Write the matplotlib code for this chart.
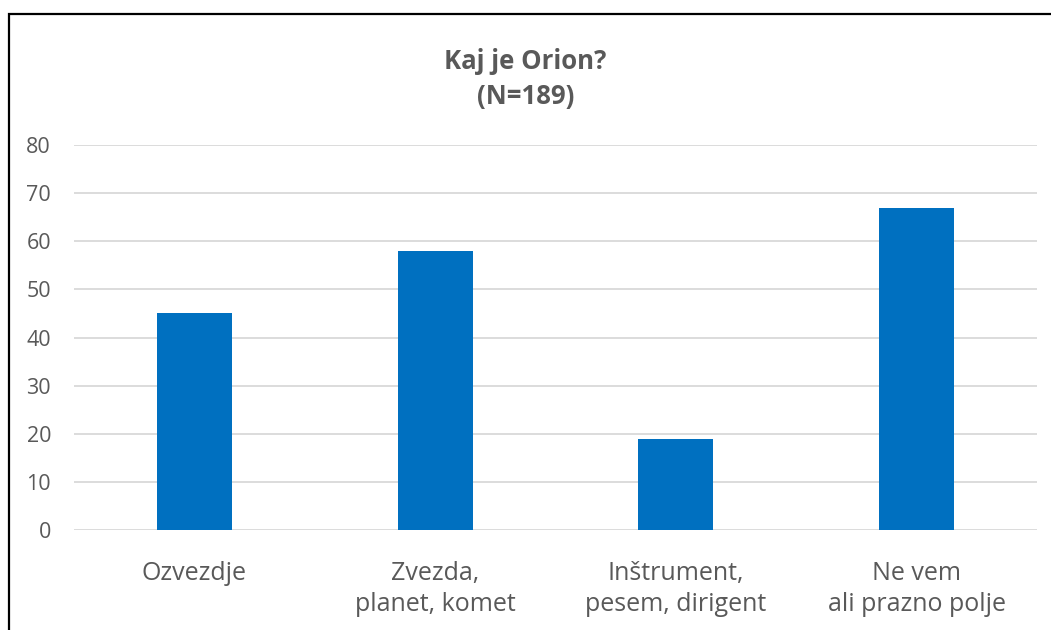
import matplotlib
matplotlib.use("Agg")
import matplotlib.pyplot as plt
from matplotlib.patches import Rectangle

categories = ["Ozvezdje", "Zvezda,\nplanet, komet", "Inštrument,\npesem, dirigent", "Ne vem\nali prazno polje"]
values = [45, 58, 19, 67]
yticks = [0, 10, 20, 30, 40, 50, 60, 70, 80]
title = "Kaj je Orion?\n(N=189)"

plt.rcParams['font.family'] = ['Open Sans', 'DejaVu Sans']
txt = "#595959"

fig = plt.figure(figsize=(10.51, 6.30), dpi=100)
ax = fig.add_axes([74/1051, 100/630, 963/1051, 385/630])

ax.bar(range(len(values)), values, width=0.311, color="#0070C0", zorder=3)
ax.set_xlim(-0.5, len(values) - 0.5)
ax.set_ylim(0, 80)
ax.set_yticks(yticks)
ax.set_yticklabels([str(t) for t in yticks], fontsize=15.5, color=txt)
ax.set_xticks(range(len(values)))
ax.set_xticklabels(categories, fontsize=18, color=txt, linespacing=1.32)
ax.tick_params(axis='both', length=0)
ax.tick_params(axis='y', pad=16.5)
ax.tick_params(axis='x', pad=22)
ax.grid(axis='y', color="#D9D9D9", linewidth=1.3, zorder=0)
for s in ax.spines.values():
    s.set_visible(False)

fig.text(0.5, 1 - 79/630, title, ha='center', va='center', fontsize=18.5,
         fontweight='bold', color=txt, linespacing=1.35)

fig.patches.append(Rectangle((9/1051, -0.05), 1.1, 1 - 14/630 + 0.05,
                             transform=fig.transFigure, fill=False,
                             edgecolor='black', linewidth=1.6))

fig.savefig("out.png", dpi=100)
